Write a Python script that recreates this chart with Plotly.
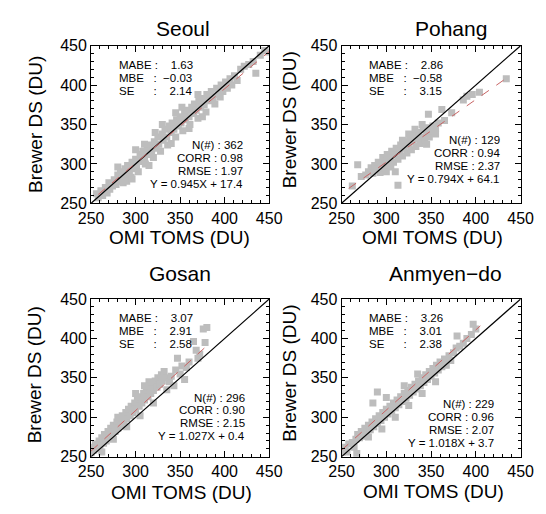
import plotly.graph_objects as go

# ---------------- data ----------------
station_names = ["Seoul", "Pohang", "Gosan", "Anmyen−do"]

seoul_pts = [
    (256,262),(258,257),(261,266),(263,260),(266,270),(268,263),(270,276),(271,268),(274,272),(276,280),
    (278,274),(280,286),(281,278),(283,290),(285,282),(286,276),(288,294),(290,286),(291,298),(293,290),
    (295,283),(296,302),(298,294),(300,306),(301,298),(303,290),(305,312),(306,303),(308,316),(310,308),
    (311,300),(313,320),(315,312),(316,324),(318,316),(320,308),(321,328),(323,320),(325,334),(326,325),
    (328,316),(330,338),(331,330),(333,344),(335,334),(336,324),(338,348),(340,340),(341,352),(343,344),
    (345,334),(346,356),(348,348),(350,360),(351,352),(353,342),(355,364),(356,356),(358,368),(360,360),
    (361,350),(363,372),(365,364),(366,376),(368,368),(370,358),(371,380),(373,372),(375,383),(377,375),
    (379,366),(380,388),(382,380),(385,392),(387,384),(389,376),(391,396),(393,388),(396,400),(398,392),
    (401,404),(403,396),(406,408),(408,400),(411,412),(414,406),(418,420),(422,424),(427,426),(432,430),
    (435,415),(440,438),(445,444),(449,442),
    (280,296),(290,278),(296,281),(300,318),(310,325),(315,298),(322,340),(330,350),(340,326),(345,365),
    (352,372),(360,345),(370,388),(375,360),(395,385),
]
pohang_pts = [
    (262,272),(268,299),(272,284),(277,286),(280,290),(283,295),(285,288),(287,298),(290,294),(291,302),
    (293,289),(295,300),(296,308),(298,295),(300,304),(301,312),(303,298),(305,308),(306,316),(308,302),
    (310,312),(311,320),(313,273),(313,306),(315,316),(316,324),(318,310),(320,320),(321,328),(323,314),
    (325,324),(326,332),(328,318),(330,328),(331,336),(333,322),(335,332),(336,340),(338,326),(340,334),
    (341,344),(343,330),(345,338),(346,346),(348,334),(350,342),(347,363),(352,348),(355,345),(358,352),
    (362,369),(365,355),(373,365),(386,381),(390,386),(396,388),(404,391),(434,408),(300,290),(305,296),
    (318,330),(325,338),(332,344),(340,350),(355,338),(345,325),(310,290),
]
gosan_pts = [
    (250,255),(251,262),(253,258),(255,266),(257,260),(259,270),(260,263),(262,274),(264,267),(265,278),
    (267,270),(269,282),(270,274),(272,286),(274,278),(275,290),(277,282),(279,294),(280,286),(282,298),
    (284,290),(285,302),(287,294),(289,306),(290,298),(292,310),(294,302),(295,314),(297,306),(299,318),
    (300,310),(302,322),(304,314),(305,326),(307,318),(309,330),(310,322),(312,334),(314,326),(315,338),
    (317,330),(319,342),(320,334),(322,346),(324,338),(325,350),(327,342),(329,354),(330,346),(332,358),
    (335,350),(338,345),(340,352),(343,340),(345,360),(347,375),(350,355),(352,365),(357,363),(360,370),
    (365,396),(368,385),(372,380),(376,412),(380,414),(378,395),(370,375),(355,348),(262,256),(275,272),
    (290,288),(305,302),(320,318),(335,335),(280,300),(300,330),(315,345),(310,340),
]
anmyen_pts = [
    (251,256),(254,262),(256,256),(258,266),(262,268),(264,262),(266,272),(267,254),(268,278),(270,274),
    (272,282),(274,276),(276,286),(278,280),(280,290),(282,284),(284,294),(286,288),(288,298),(290,332),
    (290,292),(292,302),(294,296),(296,306),(298,300),(300,310),(302,304),(304,314),(306,308),(308,318),
    (310,312),(312,322),(314,316),(316,326),(318,320),(320,330),(322,324),(324,334),(326,328),(328,338),
    (330,332),(332,342),(334,336),(336,346),(338,340),(340,350),(342,344),(344,354),(346,348),(348,358),
    (350,352),(352,362),(354,356),(356,366),(358,360),(360,370),(362,364),(365,374),(367,366),(370,378),
    (372,372),(375,382),(378,388),(379,403),(382,390),(386,394),(390,400),(395,405),(397,418),(400,412),
    (285,318),(300,325),(310,300),(325,315),(340,330),(355,345),(280,275),(295,285),(320,340),(335,355),
]
station_points = [seoul_pts, pohang_pts, gosan_pts, anmyen_pts]

fit_slope = [0.945, 0.794, 1.027, 1.018]
fit_intercept = [17.4, 64.1, 0.4, 3.7]
fit_xrange = [(258, 450), (258, 432), (250, 380), (250, 405)]

mabe = ["1.63", "2.86", "3.07", "3.26"]
mbe = ["−0.03", "−0.58", "2.91", "3.01"]
se = ["2.14", "3.15", "2.58", "2.38"]
n_obs = [362, 129, 296, 229]
corr = ["0.98", "0.94", "0.90", "0.96"]
rmse = ["1.97", "2.37", "2.15", "2.07"]
fit_text = ["Y = 0.945X + 17.4", "Y = 0.794X + 64.1", "Y = 1.027X + 0.4", "Y = 1.018X + 3.7"]

axis_ticks = [250, 300, 350, 400, 450]
x_title = "OMI TOMS (DU)"
y_title = "Brewer DS (DU)"

# ---------------- layout geometry (pixels) ----------------
W, H = 546, 514
FONT = "Liberation Sans, Arial, Helvetica, sans-serif"
boxes = [(82, 269, 39, 202), (345, 533, 39, 202), (82, 269, 301, 464), (345, 533, 301, 464)]
title_pos = [(179, 21), (460, 21), (175, 275), (454, 275)]
xtitle_pos = [(175, 237), (440, 237), (177, 501), (442, 500)]
ytitle_pos = [(23, 120), (290, 116), (23, 379), (290, 378)]
rblock = [(-26, 104), (-21, 99), (-24, 103), (-27, 110)]
lblock_top = [20, 20, 20, 20]
NB = "\u00a0"
LINE_GAP = 13.2

def fx(p):
    return p / W

def fy(p):
    return 1 - p / H

def left_line(label, value, pad_label):
    gap = 2 if value.startswith("−") else 4
    return label + NB * pad_label + ":" + NB * gap + value

fig = go.Figure()
annotations = []

for i in range(4):
    s = "" if i == 0 else str(i + 1)
    xa, ya = "x" + s, "y" + s
    pts = station_points[i]
    xs = [p[0] for p in pts]
    ys = [p[1] for p in pts]
    fig.add_trace(go.Scatter(x=xs, y=ys, mode="markers", xaxis=xa, yaxis=ya,
                             marker=dict(symbol="square", size=7, color="#bdbdbd", line=dict(width=0)),
                             showlegend=False, hoverinfo="skip"))
    fig.add_trace(go.Scatter(x=[axis_ticks[0], axis_ticks[-1]], y=[axis_ticks[0], axis_ticks[-1]],
                             mode="lines", xaxis=xa, yaxis=ya,
                             line=dict(color="black", width=1.2), showlegend=False, hoverinfo="skip"))
    x0, x1 = fit_xrange[i]
    fig.add_trace(go.Scatter(x=[x0, x1], y=[fit_slope[i] * x0 + fit_intercept[i], fit_slope[i] * x1 + fit_intercept[i]],
                             mode="lines", xaxis=xa, yaxis=ya,
                             line=dict(color="#c86464", width=1, dash="dash"), showlegend=False, hoverinfo="skip"))

    L, R, T, B = boxes[i]
    common = dict(range=[250, 450], showline=True, linecolor="black", linewidth=1, mirror="ticks",
                  ticks="inside", ticklen=6, tickwidth=1, tickcolor="black", tick0=250, dtick=50,
                  minor=dict(ticks="inside", ticklen=3, tickcolor="black", tick0=250, dtick=10),
                  showgrid=False, zeroline=False,
                  tickfont=dict(size=16, family=FONT, color="black"))
    fig.update_layout(**{
        "xaxis" + s: dict(domain=[fx(L), fx(R)], anchor=ya, **common),
        "yaxis" + s: dict(domain=[fy(B), fy(T)], anchor=xa, **common),
    })

    tx, ty = title_pos[i]
    annotations.append(dict(text=station_names[i], x=fx(tx), y=fy(ty), xref="paper", yref="paper",
                            showarrow=False, xanchor="center", yanchor="middle",
                            font=dict(size=21, family=FONT, color="black")))
    tx, ty = xtitle_pos[i]
    annotations.append(dict(text=x_title, x=fx(tx), y=fy(ty), xref="paper", yref="paper",
                            showarrow=False, xanchor="center", yanchor="middle",
                            font=dict(size=19, family=FONT, color="black")))
    tx, ty = ytitle_pos[i]
    annotations.append(dict(text=y_title, x=fx(tx), y=fy(ty), xref="paper", yref="paper",
                            showarrow=False, xanchor="center", yanchor="middle", textangle=-90,
                            font=dict(size=19, family=FONT, color="black")))

    sf = dict(size=11.5, family=FONT, color="black")
    left_lines = [left_line("MABE", mabe[i], 1), left_line("MBE", mbe[i], 3), left_line("SE", se[i], 6)]
    for k, t in enumerate(left_lines):
        annotations.append(dict(text=t, x=fx(L + 28), y=fy(T + lblock_top[i] + LINE_GAP * k),
                                xref="paper", yref="paper", showarrow=False,
                                xanchor="left", yanchor="middle", font=sf, borderpad=0))
    lines = ["N(#) : %d" % n_obs[i], "CORR : " + corr[i], "RMSE : " + rmse[i], fit_text[i]]
    ox, oy = rblock[i]
    for k, t in enumerate(lines):
        annotations.append(dict(text=t, x=fx(R + ox), y=fy(T + oy - 1 + LINE_GAP * k), xref="paper", yref="paper",
                                showarrow=False, xanchor="right", yanchor="middle", font=sf, borderpad=0))

fig.update_layout(width=W, height=H, margin=dict(l=0, r=0, t=0, b=0),
                  paper_bgcolor="white", plot_bgcolor="white",
                  annotations=annotations, showlegend=False)

fig.write_html("out.html")
